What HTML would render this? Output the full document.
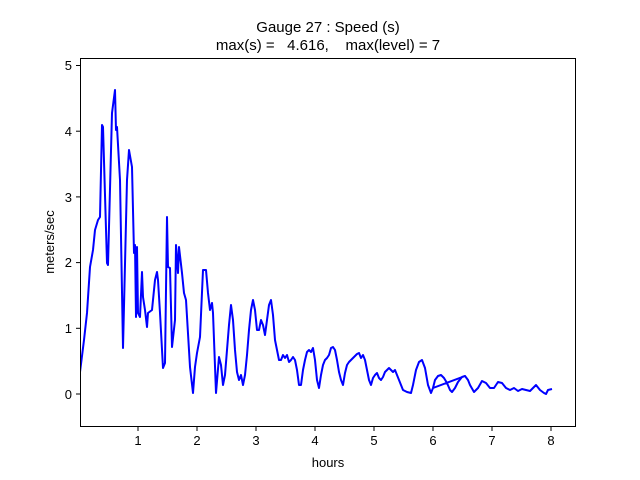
<!DOCTYPE html>
<html><head><style>body{margin:0;background:#fff}svg{display:block}text{font-family:"Liberation Sans","DejaVu Sans",sans-serif;font-size:13px;fill:#000}</style></head><body>
<svg width="640" height="480" viewBox="0 0 640 480">
<rect width="640" height="480" fill="#fff"/>
<text x="328" y="32" text-anchor="middle" font-size="15" style="font-size:15px">Gauge 27 : Speed (s)</text>
<text x="328" y="50" text-anchor="middle" style="font-size:15px" xml:space="preserve">max(s) =   4.616,    max(level) = 7</text>
<clipPath id="c"><rect x="80" y="58" width="496" height="369"/></clipPath>
<polyline clip-path="url(#c)" fill="none" stroke="#0000ff" stroke-width="2" stroke-linejoin="round" points="80,372 84,340 87,313 90,267 93,250 95,230 98,220 100,217 102,125 103,127 107,263 108,265 112,113 115,90 116,130 117,127 120,180 123,348 127,180 129,150 132,167 134,253 135,245 136,317 137,247 138,313 140,317 142,272 143,297 145,310 147,327 148,313 152,310 155,280 157,272 158,280 160,313 163,368 165,363 167,217 168,267 170,268 172,347 175,320 176,245 178,273 179,247 182,273 184,293 186,300 190,367 193,393 195,367 197,353 200,337 203,270 206,270 208,293 210,310 212,303 213,313 216,393 219,357 221,365 223,385 225,375 227,350 229,325 231,305 233,320 235,350 237,372 239,380 241,375 243,385 245,375 247,355 249,330 251,310 253,300 255,310 257,330 259,330 261,320 263,325 265,335 267,320 269,305 271,300 273,315 275,340 277,350 279,360 281,360 283,355 285,358 287,355 289,362 291,360 293,357 295,360 297,370 299,385 301,385 303,370 305,360 307,352 309,350 311,352 313,348 315,360 317,380 319,388 321,375 323,365 325,360 327,358 329,355 331,348 333,347 335,350 337,360 339,372 341,380 343,385 345,373 347,365 349,362 351,360 353,358 355,356 357,354 359,353 361,358 363,355 365,360 367,370 369,380 371,385 373,378 375,375 377,373 379,378 381,380 383,377 385,372 387,370 389,368 391,370 393,372 395,370 397,375 399,380 401,385 403,390 407,392 411,393 413,385 416,370 419,362 422,360 425,368 428,385 431,393 433,388 465,376 433,388 435,380 438,376 441,375 444,378 447,383 450,390 452,392 455,388 458,382 462,377 465,376 468,380 470,385 474,392 478,388 482,381 486,383 490,388 494,388 498,382 502,383 506,388 510,390 514,388 518,391 522,389 526,390 530,391 534,387 536,385 540,390 544,393 546,394 548,390 552,389"/>
<rect x="80.5" y="58.5" width="495" height="368" fill="none" stroke="#000" stroke-width="1"/>
<g stroke="#000">
<line x1="138" y1="427" x2="138" y2="431"/><line x1="197" y1="427" x2="197" y2="431"/><line x1="256" y1="427" x2="256" y2="431"/><line x1="315" y1="427" x2="315" y2="431"/><line x1="374" y1="427" x2="374" y2="431"/><line x1="433" y1="427" x2="433" y2="431"/><line x1="492" y1="427" x2="492" y2="431"/><line x1="551" y1="427" x2="551" y2="431"/>
<line x1="76" y1="394" x2="80" y2="394"/><line x1="76" y1="328.3" x2="80" y2="328.3"/><line x1="76" y1="262.6" x2="80" y2="262.6"/><line x1="76" y1="196.9" x2="80" y2="196.9"/><line x1="76" y1="131.2" x2="80" y2="131.2"/><line x1="76" y1="65.5" x2="80" y2="65.5"/>
</g>
<g text-anchor="middle"><text x="138" y="445">1</text><text x="197" y="445">2</text><text x="256" y="445">3</text><text x="315" y="445">4</text><text x="374" y="445">5</text><text x="433" y="445">6</text><text x="492" y="445">7</text><text x="551" y="445">8</text></g>
<g text-anchor="end"><text x="72" y="399">0</text><text x="72" y="333">1</text><text x="72" y="267">2</text><text x="72" y="202">3</text><text x="72" y="136">4</text><text x="72" y="70">5</text></g>
<text x="328" y="467" text-anchor="middle">hours</text>
<text transform="translate(54,242) rotate(-90)" text-anchor="middle">meters/sec</text>
</svg>
</body></html>
